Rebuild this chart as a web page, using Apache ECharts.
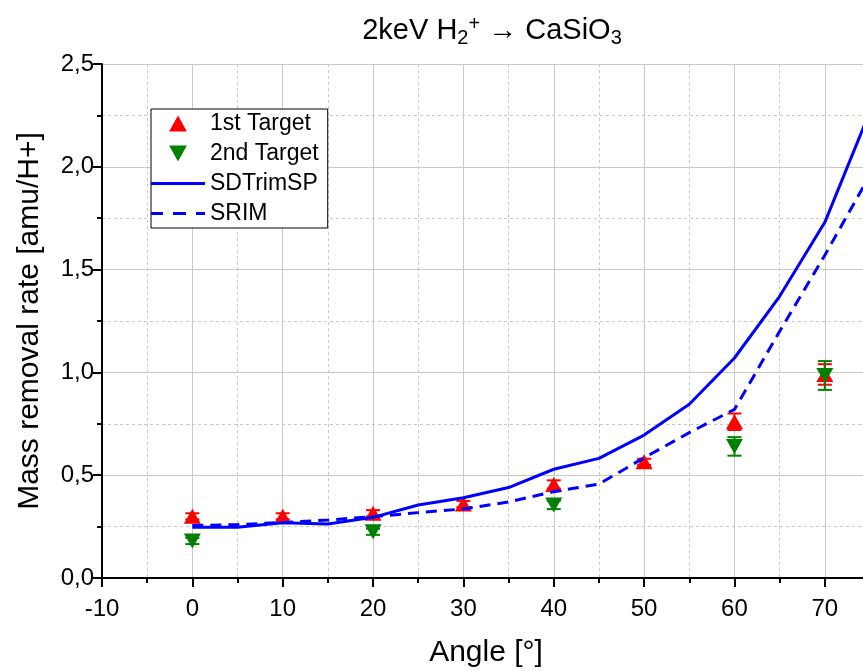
<!DOCTYPE html>
<html>
<head>
<meta charset="utf-8">
<script src="https://cdn.jsdelivr.net/npm/echarts@6/dist/echarts.min.js"></script>
<style>html,body{margin:0;padding:0;background:#fff;}#c{width:863px;height:671px;}</style>
</head>
<body>
<div id="c"></div>
<script>
// ---- data ----
const lineAngles = [0, 5, 10, 15, 20, 25, 30, 35, 40, 45, 50, 55, 60, 65, 70, 75];
const sdtrimsp = [0.247, 0.247, 0.269, 0.263, 0.295, 0.355, 0.39, 0.44, 0.529, 0.582, 0.695, 0.845, 1.07, 1.37, 1.73, 2.27];
const srim = [0.255, 0.26, 0.27, 0.282, 0.298, 0.318, 0.336, 0.37, 0.42, 0.457, 0.585, 0.707, 0.82, 1.2, 1.57, 1.96];

const t1Angles = [0, 10, 20, 30, 40, 50, 60, 70];
const t1Values = [0.30, 0.30, 0.315, 0.36, 0.455, 0.565, 0.76, 0.99];
const t1Errors = [0.015, 0.015, 0.015, 0.015, 0.02, 0.015, 0.04, 0.05];

const t2Angles = [0, 20, 40, 60, 70];
const t2Values = [0.18, 0.225, 0.355, 0.64, 0.985];
const t2Errors = [0.015, 0.015, 0.02, 0.045, 0.07];

const xTicks = [-10, 0, 10, 20, 30, 40, 50, 60, 70];
const yTicks = [0, 0.5, 1.0, 1.5, 2.0, 2.5];

// ---- build ----
const FONT = '"Liberation Sans", Arial, sans-serif';
const zip2 = (a, b) => a.map((v, i) => [v, b[i]]);
const zip3 = (a, b, c) => a.map((v, i) => [v, b[i], c[i]]);

function errRender(color) {
  return function (params, api) {
    const x = api.value(0), y = api.value(1), e = api.value(2);
    const pt = api.coord([x, y + e]);
    const pb = api.coord([x, y - e]);
    const hw = 7;
    const style = { stroke: color, lineWidth: 2, fill: null };
    return {
      type: 'group',
      children: [
        { type: 'line', shape: { x1: pt[0], y1: pt[1], x2: pb[0], y2: pb[1] }, style },
        { type: 'line', shape: { x1: pt[0] - hw, y1: pt[1], x2: pt[0] + hw, y2: pt[1] }, style },
        { type: 'line', shape: { x1: pb[0] - hw, y1: pb[1], x2: pb[0] + hw, y2: pb[1] }, style }
      ]
    };
  };
}

const chart = echarts.init(document.getElementById('c'), null, { renderer: 'canvas' });
const option = {
  backgroundColor: '#ffffff',
  animation: false,
  title: {
    text: '2keV H{sub|2}{sup|+} → CaSiO{sub|3}',
    left: 487,
    textAlign: 'center',
    top: 9,
    textStyle: {
      fontFamily: FONT, fontSize: 29, fontWeight: 'normal', color: '#000',
      rich: {
        sub: { fontFamily: FONT, fontSize: 20, color: '#000', padding: [14, 0, 0, 0] },
        sup: { fontFamily: FONT, fontSize: 20, color: '#000', padding: [0, 0, 14, 0] },
        arr: { fontFamily: '"DejaVu Sans", sans-serif', fontSize: 26, color: '#000' }
      }
    }
  },
  legend: {
    orient: 'vertical',
    left: 151,
    top: 109,
    padding: [3, 9, 3, 0],
    itemWidth: 54,
    itemHeight: 16,
    itemGap: 7,
    backgroundColor: '#fff',
    borderColor: '#000',
    borderWidth: 1,
    borderRadius: 0,
    textStyle: { fontFamily: FONT, fontSize: 23, color: '#000', lineHeight: 22 },
    data: [
      { name: '1st Target', icon: 'path://M5,0 L10,9 L0,9 Z' },
      { name: '2nd Target', icon: 'path://M0,0 L10,0 L5,9 Z' },
      { name: 'SDTrimSP', icon: 'path://M0,0 L54,0 L54,3 L0,3 Z' },
      { name: 'SRIM', icon: 'path://M0,0 L12,0 L12,3 L0,3 Z M22,0 L35,0 L35,3 L22,3 Z M45,0 L54,0 L54,3 L45,3 Z' }
    ]
  },
  grid: { left: 102, right: -7, top: 64, bottom: 93, containLabel: false, outerBoundsMode: 'none' },
  xAxis: {
    type: 'value', min: -10, max: 75, interval: 10,
    name: 'Angle [°]', nameLocation: 'middle', nameGap: 60,
    nameTextStyle: { fontFamily: FONT, fontSize: 30, color: '#000' },
    axisLine: { onZero: false, lineStyle: { color: '#000', width: 2 } },
    axisTick: { show: true, inside: false, length: 9, lineStyle: { color: '#000', width: 2 } },
    minorTick: { show: true, splitNumber: 2, length: 5, lineStyle: { color: '#000', width: 2 } },
    axisLabel: {
      fontFamily: FONT, fontSize: 24, color: '#000', margin: 19,
      formatter: v => (xTicks.indexOf(v) >= 0 ? String(v) : '')
    },
    splitLine: { show: true, lineStyle: { color: '#c8c8c8', width: 1 } },
    minorSplitLine: { show: true, lineStyle: { color: '#c8c8c8', width: 1, type: [3, 3] } }
  },
  yAxis: {
    type: 'value', min: 0, max: 2.5, interval: 0.5,
    name: 'Mass removal rate [amu/H+]', nameLocation: 'middle', nameGap: 57,
    nameTextStyle: { fontFamily: FONT, fontSize: 30, color: '#000' },
    axisLine: { onZero: false, lineStyle: { color: '#000', width: 2 } },
    axisTick: { show: true, inside: false, length: 9, lineStyle: { color: '#000', width: 2 } },
    minorTick: { show: true, splitNumber: 2, length: 5, lineStyle: { color: '#000', width: 2 } },
    axisLabel: {
      fontFamily: FONT, fontSize: 24, color: '#000', margin: 8,
      formatter: v => (yTicks.some(t => Math.abs(t - v) < 1e-9) ? v.toFixed(1).replace('.', ',') : '')
    },
    splitLine: { show: true, lineStyle: { color: '#c8c8c8', width: 1 } },
    minorSplitLine: { show: true, lineStyle: { color: '#c8c8c8', width: 1, type: [3, 3] } }
  },
  series: [
    {
      name: '1st Target err', type: 'custom', renderItem: errRender('#ff0000'),
      data: zip3(t1Angles, t1Values, t1Errors), encode: { x: 0, y: 1 }, silent: true
    },
    {
      name: '1st Target', type: 'scatter', symbol: 'triangle', symbolSize: [17, 15],
      itemStyle: { color: '#ff0000', opacity: 1 }, data: zip2(t1Angles, t1Values)
    },
    {
      name: '2nd Target err', type: 'custom', renderItem: errRender('#008000'),
      data: zip3(t2Angles, t2Values, t2Errors), encode: { x: 0, y: 1 }, silent: true
    },
    {
      name: '2nd Target', type: 'scatter', symbol: 'triangle', symbolRotate: 180, symbolSize: [17, 15],
      itemStyle: { color: '#008000', opacity: 1 }, data: zip2(t2Angles, t2Values)
    },
    {
      name: 'SDTrimSP', type: 'line', symbol: 'none', showSymbol: false,
      lineStyle: { color: '#0000ff', width: 3 }, itemStyle: { color: '#0000ff' },
      data: zip2(lineAngles, sdtrimsp)
    },
    {
      name: 'SRIM', type: 'line', symbol: 'none', showSymbol: false,
      lineStyle: { color: '#0000ff', width: 3, type: [11, 7] }, itemStyle: { color: '#0000ff' },
      data: zip2(lineAngles, srim)
    }
  ]
};
chart.setOption(option);
</script>
</body>
</html>
